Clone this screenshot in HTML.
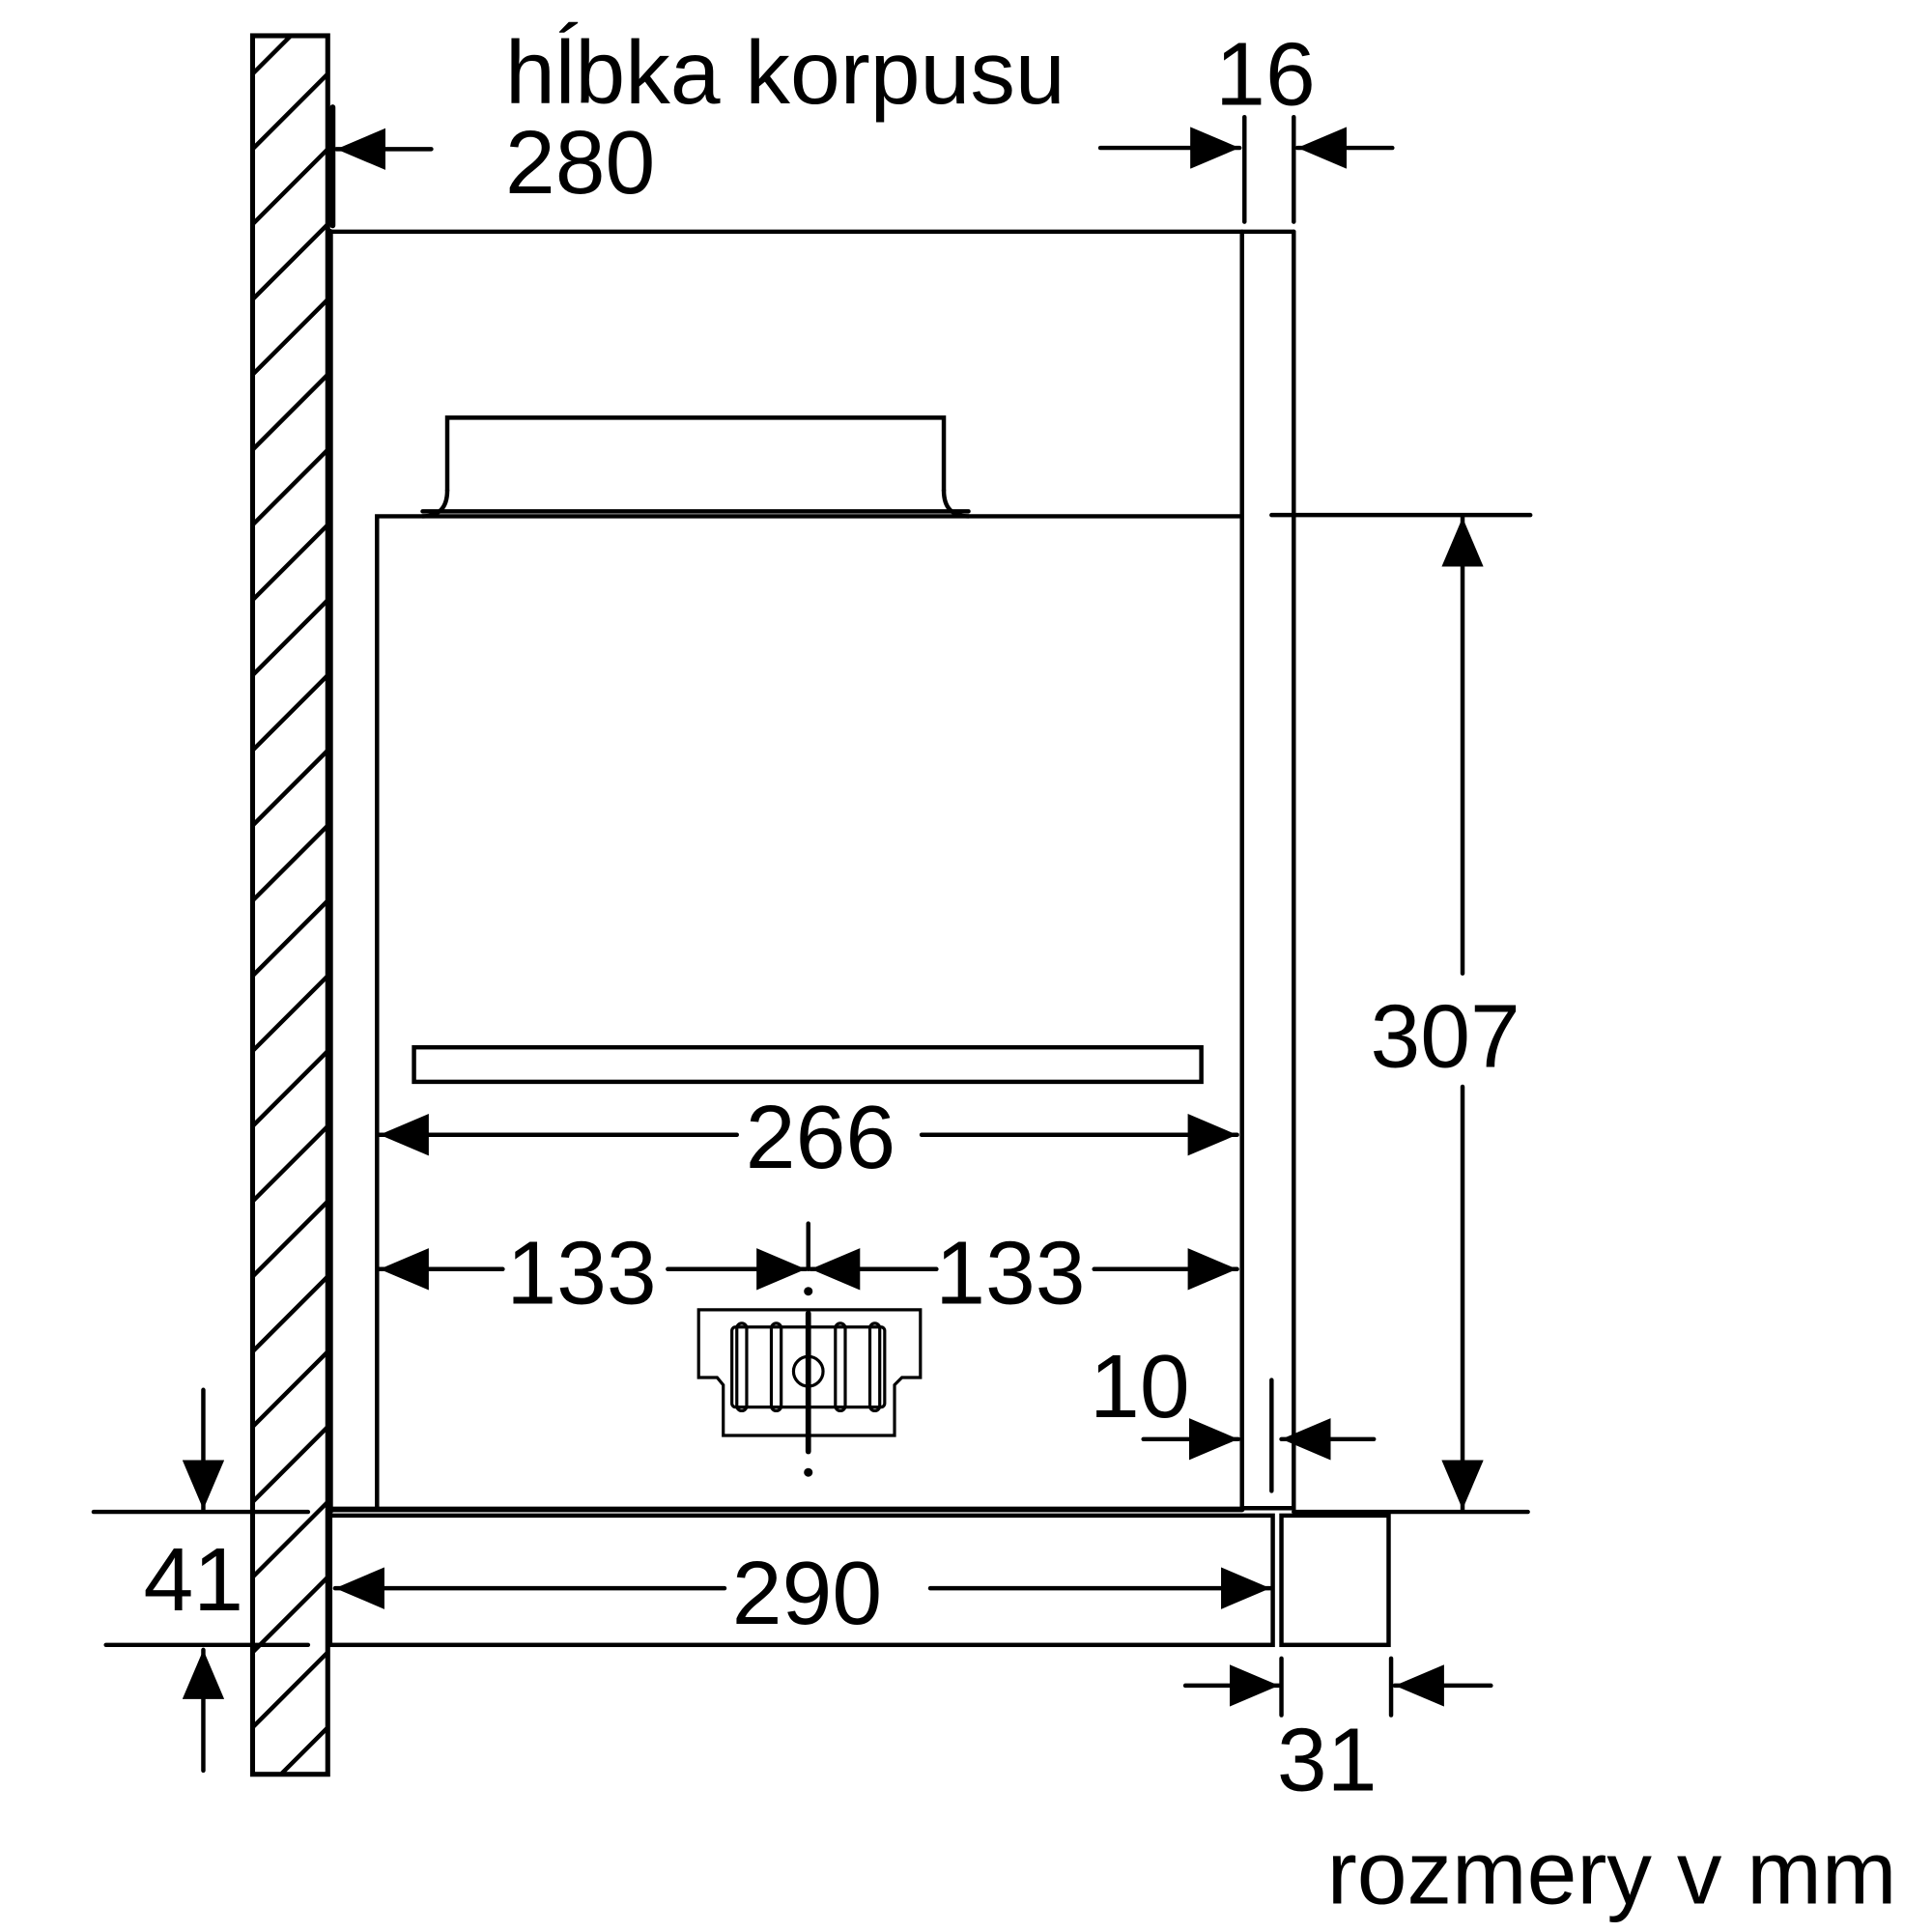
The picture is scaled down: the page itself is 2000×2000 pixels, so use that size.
<!DOCTYPE html>
<html><head><meta charset="utf-8"><style>html,body{margin:0;padding:0;background:#fff}svg{display:block}</style></head>
<body>
<svg width="2000" height="2000" viewBox="0 0 1568 1568" xmlns="http://www.w3.org/2000/svg">
<defs>
<clipPath id="wc"><rect x="205" y="29" width="61" height="1411"/></clipPath>
<marker id="a" viewBox="0 0 40 34" refX="40" refY="17" markerWidth="40" markerHeight="34" markerUnits="userSpaceOnUse" orient="auto"><polygon points="0,0 40,17 0,34" fill="#000"/></marker>
</defs>
<g fill="none" stroke="#000" stroke-width="3.5" stroke-linecap="round">
<g clip-path="url(#wc)" stroke-width="3.5">
<g id="h">
<line x1="190" y1="75" x2="290" y2="-25"/><line x1="190" y1="136" x2="290" y2="36"/><line x1="190" y1="197" x2="290" y2="97"/><line x1="190" y1="258" x2="290" y2="158"/><line x1="190" y1="319" x2="290" y2="219"/><line x1="190" y1="380" x2="290" y2="280"/><line x1="190" y1="441" x2="290" y2="341"/><line x1="190" y1="502" x2="290" y2="402"/><line x1="190" y1="563" x2="290" y2="463"/><line x1="190" y1="624" x2="290" y2="524"/><line x1="190" y1="685" x2="290" y2="585"/><line x1="190" y1="746" x2="290" y2="646"/>
</g>
<use href="#h" y="732"/>
</g>
<rect x="205" y="29" width="61" height="1411" stroke-width="4"/>
<line x1="270" y1="87" x2="270" y2="183" stroke-width="4.5"/>
<line x1="268" y1="188" x2="1050" y2="188"/>
<line x1="268" y1="188" x2="268" y2="1227" stroke-width="4.5"/>
<line x1="1008" y1="188" x2="1008" y2="1225"/>
<line x1="1050" y1="188" x2="1050" y2="1225"/>
<line x1="1008" y1="1224" x2="1050" y2="1224"/>
<path d="M306,1225 V419 H1006"/>
<path d="M363,398 V339 H766 V398"/>
<path d="M343,419 Q363,419 363,398 M766,398 Q766,419 786,419"/>
<path d="M343,415 H786"/>
<rect x="336" y="850" width="639" height="28"/>
<line x1="268" y1="1225" x2="1008" y2="1225" stroke-width="4.5"/>
<rect x="268" y="1230" width="765" height="105"/>
<rect x="1040" y="1230" width="87" height="105"/>
<line x1="76" y1="1227" x2="250" y2="1227"/>
<line x1="1050" y1="1227" x2="1240" y2="1227"/>
<line x1="86" y1="1335" x2="250" y2="1335"/>
<line x1="1032" y1="418" x2="1242" y2="418"/>
<line x1="1187" y1="790" x2="1187" y2="420" marker-end="url(#a)"/>
<line x1="1187" y1="882" x2="1187" y2="1225" marker-end="url(#a)"/>
<line x1="598" y1="921" x2="308" y2="921" marker-end="url(#a)"/>
<line x1="748" y1="921" x2="1004" y2="921" marker-end="url(#a)"/>
<line x1="408" y1="1030" x2="308" y2="1030" marker-end="url(#a)"/>
<line x1="542" y1="1030" x2="654" y2="1030" marker-end="url(#a)"/>
<line x1="760" y1="1030" x2="658" y2="1030" marker-end="url(#a)"/>
<line x1="888" y1="1030" x2="1004" y2="1030" marker-end="url(#a)"/>
<line x1="656" y1="993" x2="656" y2="1030"/>
<circle cx="656" cy="1048" r="1.8" fill="#000"/>
<line x1="656" y1="1066" x2="656" y2="1178" stroke-width="4.5"/>
<circle cx="656" cy="1195" r="1.8" fill="#000"/>
<path d="M567,1063 H747 V1118 H732 L726,1124 V1165 H587 V1124 L582,1118 H567 Z" stroke-width="2.5"/>
<rect x="594" y="1077" width="124" height="65" rx="3" stroke-width="2.5"/>
<rect x="598" y="1074" width="8" height="71" rx="4" stroke-width="2.5"/>
<rect x="626" y="1074" width="8" height="71" rx="4" stroke-width="2.5"/>
<rect x="678" y="1074" width="8" height="71" rx="4" stroke-width="2.5"/>
<rect x="706" y="1074" width="8" height="71" rx="4" stroke-width="2.5"/>
<circle cx="656" cy="1113" r="12" stroke-width="2.5"/>
<line x1="928" y1="1168" x2="1005" y2="1168" marker-end="url(#a)"/>
<line x1="1115" y1="1168" x2="1040" y2="1168" marker-end="url(#a)"/>
<line x1="1032" y1="1120" x2="1032" y2="1210"/>
<line x1="893" y1="120" x2="1006" y2="120" marker-end="url(#a)"/>
<line x1="1130" y1="120" x2="1053" y2="120" marker-end="url(#a)"/>
<line x1="1010" y1="95" x2="1010" y2="180"/>
<line x1="1050" y1="95" x2="1050" y2="180"/>
<line x1="350" y1="121" x2="273" y2="121" marker-end="url(#a)"/>
<line x1="588" y1="1289" x2="272" y2="1289" marker-end="url(#a)"/>
<line x1="755" y1="1289" x2="1031" y2="1289" marker-end="url(#a)"/>
<line x1="165" y1="1128" x2="165" y2="1225" marker-end="url(#a)"/>
<line x1="165" y1="1437" x2="165" y2="1339" marker-end="url(#a)"/>
<line x1="962" y1="1368" x2="1038" y2="1368" marker-end="url(#a)"/>
<line x1="1210" y1="1368" x2="1132" y2="1368" marker-end="url(#a)"/>
<line x1="1040" y1="1346" x2="1040" y2="1392"/>
<line x1="1129" y1="1346" x2="1129" y2="1392"/>
</g>
<g font-family="Liberation Sans, sans-serif" font-size="73" fill="#000">
<text x="410" y="84">hĺbka korpusu</text>
<text x="410" y="157">280</text>
<text x="1027" y="85" text-anchor="middle">16</text>
<text x="1173" y="866" text-anchor="middle">307</text>
<text x="666" y="948" text-anchor="middle">266</text>
<text x="472" y="1058" text-anchor="middle">133</text>
<text x="820" y="1058" text-anchor="middle">133</text>
<text x="925" y="1150" text-anchor="middle">10</text>
<text x="655" y="1318" text-anchor="middle">290</text>
<text x="157" y="1307" text-anchor="middle">41</text>
<text x="1077" y="1453" text-anchor="middle">31</text>
<text x="1077" y="1545">rozmery v mm</text>
</g>
</svg>
</body></html>
